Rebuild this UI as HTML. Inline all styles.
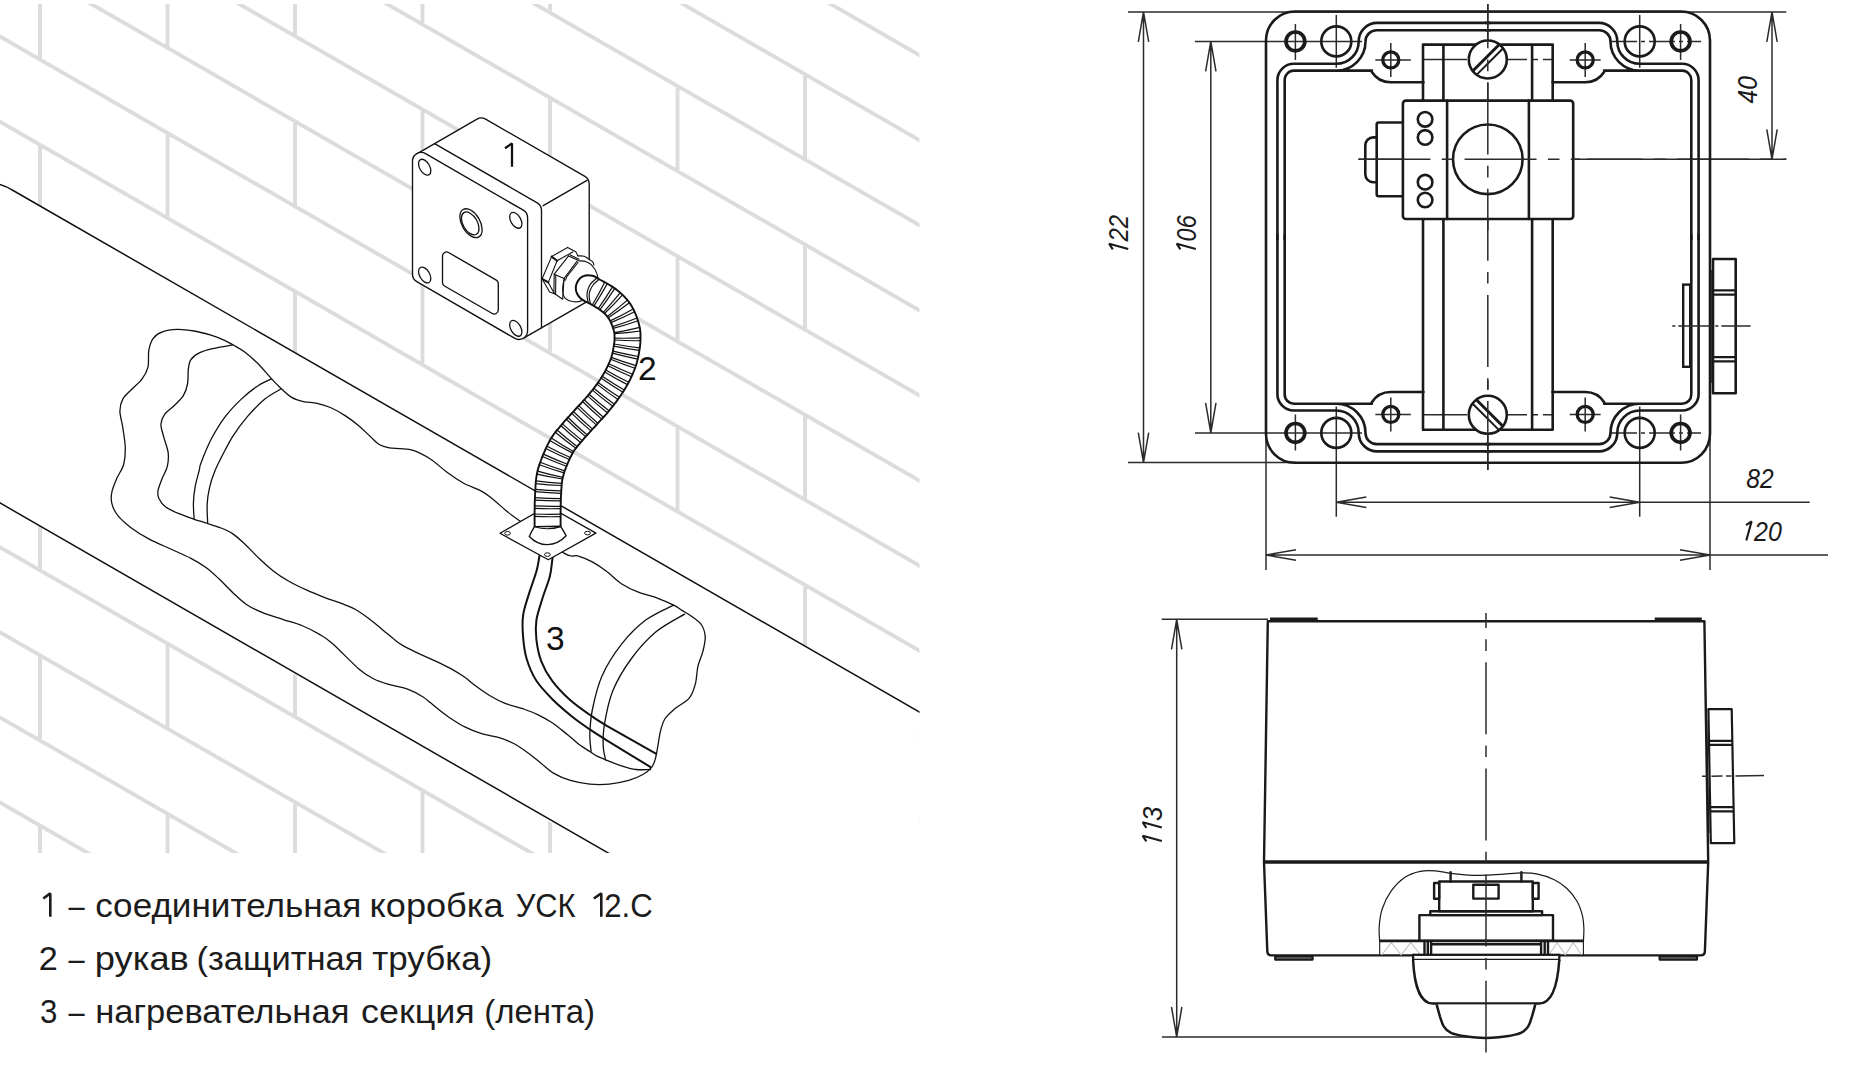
<!DOCTYPE html>
<html><head><meta charset="utf-8"><title>USK 12.C</title>
<style>
html,body{margin:0;padding:0;background:#fff;}
body{width:1849px;height:1071px;overflow:hidden;font-family:"Liberation Sans",sans-serif;}
svg{display:block;}
text{font-family:"Liberation Sans",sans-serif;}
</style></head><body>
<svg width="1849" height="1071" viewBox="0 0 1849 1071">
<rect x="0" y="0" width="1849" height="1071" fill="#fff"/>
<defs><clipPath id="cl"><rect x="0" y="4" width="919.5" height="849"/></clipPath></defs>
<g clip-path="url(#cl)">
<path d="M-5,-647.1 L925,-111.9M-5,-562 L925,-26.8M-5,-476.9 L925,58.3M-5,-391.8 L925,143.4M-5,-306.7 L925,228.5M-5,-221.6 L925,313.6M-5,-136.5 L925,398.7M-5,-51.4 L925,483.8M-5,33.7 L925,568.9M-5,118.8 L925,654M-5,203.9 L925,739.1M-5,289 L925,824.2M-5,374.1 L925,909.3M-5,459.2 L925,994.4M-5,544.3 L925,1079.5M-5,629.4 L925,1164.6M-5,714.5 L925,1249.7M-5,799.6 L925,1334.8M-5,884.7 L925,1419.9M-5,969.8 L925,1505M40,-706.3 V-621.2M40,-536.1 V-451M40,-365.9 V-280.8M40,-195.7 V-110.6M40,-25.5 V59.6M40,144.7 V229.8M40,314.9 V400M40,485.1 V570.2M40,655.3 V740.4M40,825.5 V910.6M40,995.7 V1080.8M167.5,-718 V-632.9M167.5,-547.8 V-462.7M167.5,-377.6 V-292.5M167.5,-207.4 V-122.3M167.5,-37.2 V47.9M167.5,133 V218.1M167.5,303.2 V388.3M167.5,473.4 V558.5M167.5,643.6 V728.7M167.5,813.8 V898.9M167.5,984 V1069.1M295,-559.5 V-474.4M295,-389.3 V-304.2M295,-219.1 V-134M295,-48.9 V36.2M295,121.3 V206.4M295,291.5 V376.6M295,461.7 V546.8M295,631.9 V717M295,802.1 V887.2M295,972.3 V1057.4M295,1142.5 V1227.6M422.5,-571.3 V-486.2M422.5,-401.1 V-316M422.5,-230.9 V-145.8M422.5,-60.7 V24.4M422.5,109.5 V194.6M422.5,279.7 V364.8M422.5,449.9 V535M422.5,620.1 V705.2M422.5,790.3 V875.4M422.5,960.5 V1045.6M422.5,1130.7 V1215.8M550,-412.8 V-327.7M550,-242.6 V-157.5M550,-72.4 V12.7M550,97.8 V182.9M550,268 V353.1M550,438.2 V523.3M550,608.4 V693.5M550,778.6 V863.7M550,948.8 V1033.9M550,1119 V1204.1M550,1289.2 V1374.3M677.5,-424.5 V-339.4M677.5,-254.3 V-169.2M677.5,-84.1 V1M677.5,86.1 V171.2M677.5,256.3 V341.4M677.5,426.5 V511.6M677.5,596.7 V681.8M677.5,766.9 V852M677.5,937.1 V1022.2M677.5,1107.3 V1192.4M677.5,1277.5 V1362.6M805,-266 V-180.9M805,-95.8 V-10.7M805,74.4 V159.5M805,244.6 V329.7M805,414.8 V499.9M805,585 V670.1M805,755.2 V840.3M805,925.4 V1010.5M805,1095.6 V1180.7M805,1265.8 V1350.9M805,1436 V1521.1M932.5,-277.7 V-192.6M932.5,-107.5 V-22.4M932.5,62.7 V147.8M932.5,232.9 V318M932.5,403.1 V488.2M932.5,573.3 V658.4M932.5,743.5 V828.6M932.5,913.7 V998.8M932.5,1083.9 V1169M932.5,1254.1 V1339.2M932.5,1424.3 V1509.4" fill="none" stroke="#dcdcdc" stroke-width="3.9"/>
<path d="M-2,181.7 L921,712.9 L921,856 L608.2,856 L-2,501.8 Z" fill="#fff" stroke="none"/>
<path d="M-1,184.3 Q6.5,186.3 14,191 L921,712.9 M-2,501.8 L616.9,858" fill="none" stroke="#111" stroke-width="1.5"/>
<path d="M116.9,478.1C118.9,473.6 122.2,469.7 123.6,464.7C125,459.6 125.4,454 125.3,447.9C125.2,441.7 123.7,433.9 122.8,427.7C121.9,421.5 119.9,415.6 119.9,410.9C119.9,406.1 120.8,402.7 122.8,399.1C124.8,395.5 128.8,392.4 132,389C135.3,385.7 139.5,382.6 142.1,378.9C144.8,375.3 146.9,371.9 148,367.2C149.1,362.4 148,355.1 148.8,350.3C149.7,345.6 150.8,341.7 153,338.6C155.3,335.5 158.2,333.4 162.3,331.9C166.4,330.3 172.1,329.5 177.4,329.3C182.7,329.2 188.6,330 194.2,331C199.8,332 206,333.7 211,335.2C216.1,336.8 220.9,338.7 224.5,340.3C228.1,341.9 229.5,342.8 232.9,344.8C236.3,346.8 240.5,348.9 244.7,352C248.9,355.2 253.6,359.3 258.1,363.8C262.6,368.3 267.8,374.9 271.6,378.9C275.4,383 277.5,385.1 280.8,388.2C284.2,391.3 288,395.2 291.7,397.4C295.5,399.7 299.3,400.6 303.5,401.6C307.7,402.6 312.5,402.3 317,403.3C321.5,404.3 325.7,405.4 330.4,407.5C335.2,409.6 340.8,412.8 345.5,415.9C350.3,419 354.8,422.5 359,426C363.2,429.5 367.4,433.9 370.8,436.9C374.1,440 376.1,442.7 379.2,444.5C382.3,446.3 385.8,447.2 389.3,447.9C392.7,448.6 396,448.3 400,448.7C404,449.1 408.3,448.6 413.3,450.3C418.3,452 424.4,455.1 430,458.7C435.6,462.3 441.1,467.9 446.7,472C452.2,476.1 457.8,479.9 463.3,483C468.9,486.1 475.4,488 480,490.4C484.6,492.8 486.3,493.9 490.8,497.4C495.3,500.9 502.3,507.6 507.1,511.5C511.9,515.4 510,513.7 519.5,520.7C529,527.7 554.7,547.5 564.4,553.4C574.1,559.2 573.1,554.4 577.7,555.8C582.4,557.2 587.4,559.2 592.3,561.9C597.1,564.5 602,567.9 606.8,571.6C611.7,575.2 616.2,580.3 621.4,583.7C626.7,587.2 632.3,589.8 638.4,592.2C644.5,594.6 652,596.1 657.8,598.3C663.7,600.4 669.6,603.1 673.6,605.1C677.7,607.1 679.1,608.5 682.1,610.4C685.2,612.3 688.6,614.1 691.8,616.5C695.1,618.9 699.3,621.6 701.6,625C703.8,628.4 705,632.7 705.2,637.1C705.4,641.6 704,646.8 702.8,651.7C701.6,656.6 699.1,661 697.9,666.3C696.7,671.5 696.9,678 695.5,683.3C694.1,688.5 692.9,693.6 689.4,697.8C686,702.1 678.9,705.3 674.8,708.8C670.8,712.2 667.6,714.6 665.1,718.5C662.7,722.3 661.5,727.2 660.3,731.8C659.1,736.5 658.7,742 657.8,746.4C657,750.9 656.4,755.1 655.4,758.6C654.4,762 653.8,764.4 651.8,767.1C649.7,769.7 647.1,772.1 643.3,774.3C639.4,776.6 634.4,778.8 628.7,780.4C623,782 615.8,783.4 609.3,784.1C602.8,784.7 596.3,784.7 589.8,784.1C583.4,783.4 576.5,782.2 570.4,780.4C564.4,778.6 558.3,776 553.4,773.1C548.6,770.3 545.3,766.6 541.3,763.4C537.2,760.2 533.6,756.9 529.1,753.7C524.7,750.5 519.4,746.6 514.6,744C509.7,741.4 505.5,739.6 500,737.9C494.5,736.2 487.4,735.5 481.6,733.7C475.7,731.8 470.1,729.6 464.8,726.9C459.4,724.3 454.4,720.9 449.6,717.7C444.9,714.5 440.7,711.1 436.2,707.6C431.7,704.1 427.5,699.8 422.7,696.7C418,693.6 412.9,691.1 407.6,689.1C402.3,687.1 396.4,686.6 390.8,684.9C385.2,683.2 379.3,681.7 374,679C368.7,676.4 365.8,674.9 358.8,668.9C351.9,663 338.8,649 332.1,643.2C325.4,637.3 323.7,636.9 318.6,633.9C313.6,631 307.7,627.9 301.8,625.5C296,623.1 289.8,621.7 283.3,619.6C276.9,617.5 269.3,615.4 263.2,612.9C257,610.4 251.4,607.9 246.4,604.5C241.3,601.1 237.4,596.9 232.9,592.7C228.4,588.5 223.9,583.5 219.5,579.3C215,575.1 210.8,571 206,567.5C201.2,564 196.8,561.3 190.9,558.3C185,555.2 177.7,552.2 170.7,549C163.7,545.8 155.6,542.6 148.8,538.9C142.1,535.3 135.5,531.1 130.3,527.2C125.2,523.2 120.8,519.3 117.7,515.4C114.7,511.5 112.8,507.5 111.9,503.6C110.9,499.7 111,496.1 111.9,491.9C112.7,487.6 114.9,482.7 116.9,478.1Z" fill="none" stroke="#111" stroke-width="1.3" stroke-linecap="round"/>
<path d="M232.9,344.8C229.5,345.4 218.3,347.3 212.7,348.7C207.1,350 202.9,351.1 199.3,352.9C195.6,354.7 192.7,356.9 190.9,359.6C189.1,362.3 188.9,364.8 188.4,368.8C187.8,372.9 188.4,379.5 187.5,384C186.7,388.5 185.6,392.1 183.3,395.7C181.1,399.4 177.1,402.7 174.1,405.8C171,408.9 167,411.2 164.8,414.2C162.6,417.3 161.1,420.4 160.9,424.3C160.8,428.2 162.8,433 164,437.8C165.2,442.5 167.6,448.1 168.2,452.9C168.7,457.7 168.3,462.2 167.3,466.4C166.4,470.6 163.8,474.2 162.3,478.1C160.8,482.1 158.7,486.8 158.1,490.2C157.5,493.6 157.7,495.8 158.9,498.6C160.2,501.4 162.3,504.5 165.7,507C169,509.5 174.3,511.7 179.1,513.7C183.9,515.8 189.5,517.6 194.2,519.3C199,520.9 203.2,522 207.7,523.5C212.2,524.9 216.9,526.3 221.1,528C225.3,529.7 229,531.2 232.9,533.9C236.8,536.5 240.5,540.1 244.7,544C248.9,547.9 253.4,552.9 258.1,557.4C262.9,561.9 268.2,567 273.3,570.9C278.3,574.8 282.8,577.7 288.4,581C294,584.2 300.7,587.4 306.9,590.2C313,593 319.5,595.5 325.4,597.8C331.3,600 337.1,601.7 342.2,603.7C347.2,605.6 351.2,607 355.6,609.5C360.1,612.1 364.6,615.4 369.1,618.8C373.6,622.2 378.6,626.5 382.5,629.7C386.5,632.9 389.3,635.5 392.6,638.1C396,640.7 398.1,642.8 402.6,645.4C407,648 413.8,651.1 419.4,653.8C425,656.5 430.9,658.8 436.2,661.4C441.5,663.9 446.5,666.3 451.3,668.9C456.1,671.6 460.6,674.4 464.8,677.3C469,680.3 472.3,683.5 476.5,686.6C480.7,689.7 485.2,693 490,695.8C494.7,698.6 499.8,701.3 505.1,703.4C510.4,705.5 516.6,706.6 521.9,708.4C527.2,710.3 532,711.9 537.1,714.3C542.1,716.7 547.1,719.4 552.2,722.7C557.2,726.1 562.8,730.9 567.3,734.5C571.8,738.1 575.2,741.6 579.1,744.6C583,747.5 587.8,750.2 590.9,752.2C593.9,754.1 594.7,754.9 597.1,756.1C599.6,757.4 601.6,758.1 605.6,759.8C609.7,761.4 616.4,764.2 621.4,765.8C626.5,767.5 631.1,768.9 636,769.5C640.8,770.1 648.1,769.5 650.6,769.5" fill="none" stroke="#111" stroke-width="1.3" stroke-linecap="round"/>
<path d="M271.6,378.9C269.3,380.1 263.2,382.3 258.1,385.7C253.1,389 246.9,393.8 241.3,399.1C235.7,404.4 229.5,410.9 224.5,417.6C219.5,424.3 215,431.9 211,439.5C207.1,447 202.9,457.9 201,463C199,468.1 200.3,466 199.3,470C198.3,474 196.1,481.2 195.1,486.8C194.1,492.4 193.5,498.2 193.4,503.6C193.3,509 194.1,516.7 194.2,519.3" fill="none" stroke="#111" stroke-width="1.3" stroke-linecap="round"/>
<path d="M280.8,389C278.2,390.7 270.3,394.6 264.8,399.1C259.4,403.6 253.4,409.8 248,415.9C242.7,422.1 237.4,429.1 232.9,436.1C228.4,443.1 224.1,452.3 221.1,457.9C218.2,463.6 217.2,465.2 215.3,470C213.3,474.8 211,481.2 209.7,486.8C208.4,492.4 207.5,497.5 207.2,503.6C206.8,509.7 207.6,520.2 207.7,523.5" fill="none" stroke="#111" stroke-width="1.3" stroke-linecap="round"/>
<path d="M673.6,605.1C669,607.6 654.4,613.6 645.7,620.1C637,626.7 628.7,635.1 621.4,644.4C614.1,653.7 606.8,665.1 602,676C597.1,686.9 594.3,700.3 592.3,710C590.3,719.7 590.1,727.4 589.8,734.3C589.6,741.1 590.9,748.4 591.1,751.3" fill="none" stroke="#111" stroke-width="1.3" stroke-linecap="round"/>
<path d="M684.6,614.1C679.7,617.1 664.3,624.8 655.4,632.3C646.5,639.8 638.2,649.3 631.1,659C624,668.7 617.4,679.6 612.9,690.6C608.5,701.5 606,715.2 604.4,724.6C602.8,733.9 603,740.5 603.2,746.4C603.4,752.3 605.2,757.5 605.6,759.8" fill="none" stroke="#111" stroke-width="1.3" stroke-linecap="round"/>
<path d="M540.8,548C540.5,549.9 539.6,555.5 538.9,559.4C538.1,563.4 538,565.9 536.4,571.6C534.8,577.2 531.4,586.1 529.1,593.4C526.9,600.7 524.1,608 523.1,615.3C522.1,622.6 522.5,629.8 523.1,637.1C523.7,644.4 524.5,651.7 526.7,659C528.9,666.3 532,674 536.4,680.8C540.9,687.7 547.4,694.2 553.4,700.3C559.5,706.3 566.8,712.4 572.9,717.3C578.9,722.1 584.2,725.6 589.8,729.4C595.5,733.3 596.7,734.1 606.8,740.3C617,746.6 643.3,762.6 650.6,767.1" fill="none" stroke="#111" stroke-width="2" stroke-linecap="round"/>
<path d="M553.2,552C553,553.4 552.8,556.6 552.2,560.6C551.6,564.7 551.4,570.2 549.8,576.4C548.2,582.7 544.7,591 542.5,598.3C540.3,605.6 537.4,613.3 536.4,620.1C535.4,627 535.6,632.7 536.4,639.6C537.2,646.4 538.7,654.5 541.3,661.4C543.9,668.3 547.4,674.4 552.2,680.8C557.1,687.3 564.1,694.6 570.4,700.3C576.7,705.9 583.8,710.6 589.8,714.8C595.9,719.1 595.8,719.3 606.8,725.8C617.9,732.2 647.7,749 655.9,753.7" fill="none" stroke="#111" stroke-width="2" stroke-linecap="round"/>
<path d="M500,533.3 L547.7,505.8 L595.9,533.1 L548.3,559.7 Z" fill="#fff" stroke="#111" stroke-width="1.3" stroke-linejoin="round"/>
<ellipse cx="507.6" cy="533.3" rx="2.9" ry="1.8" fill="#fff" stroke="#111" stroke-width="1"/>
<ellipse cx="587.5" cy="533.1" rx="2.9" ry="1.8" fill="#fff" stroke="#111" stroke-width="1"/>
<ellipse cx="547.4" cy="554.6" rx="2.9" ry="1.8" fill="#fff" stroke="#111" stroke-width="1"/>
<path d="M416.9,153.8 L477,119.1 A8.7,8.7 0 0 1 485.6,119.1 L584.9,176.3 A8.7,8.7 0 0 1 589.2,183.8 L589.2,300.3 L523.2,338.4 L430,250 Z" fill="#fff" stroke="#111" stroke-width="1.35" stroke-linejoin="round" stroke-linecap="round"/>
<path d="M412.5,161.3A8.7,8.7 0 0 1 425.6,153.7L523.3,210.2A8.7,8.7 0 0 1 527.6,217.7L527.6,330.7A8.7,8.7 0 0 1 514.5,338.2L416.8,281.7A8.7,8.7 0 0 1 412.5,274.2Z" fill="#fff" stroke="#111" stroke-width="1.35" stroke-linejoin="round" stroke-linecap="round"/>
<path d="M434.6,143.6 L537.2,202.8 A8.7,8.7 0 0 1 541.5,210.3 V327.9 M543.2,205.7 L587,180.3" fill="none" stroke="#111" stroke-width="1.35" stroke-linejoin="round" stroke-linecap="round"/>
<ellipse cx="424.7" cy="167.2" rx="8.7" ry="5" transform="rotate(60 424.7 167.2)" fill="none" stroke="#111" stroke-width="1.3"/>
<ellipse cx="515.8" cy="220.3" rx="8.7" ry="5" transform="rotate(60 515.8 220.3)" fill="none" stroke="#111" stroke-width="1.3"/>
<ellipse cx="424.7" cy="275" rx="8.7" ry="5" transform="rotate(60 424.7 275)" fill="none" stroke="#111" stroke-width="1.3"/>
<ellipse cx="515.8" cy="328.3" rx="8.7" ry="5" transform="rotate(60 515.8 328.3)" fill="none" stroke="#111" stroke-width="1.3"/>
<ellipse cx="471" cy="223.2" rx="15.8" ry="9.1" transform="rotate(60 471 223.2)" fill="none" stroke="#111" stroke-width="1.3"/>
<ellipse cx="470.2" cy="223.4" rx="12.5" ry="7.2" transform="rotate(60 470.2 223.4)" fill="none" stroke="#111" stroke-width="1.3"/>
<path d="M442.5,255.9A4,4 0 0 1 448.5,252.5L496.3,280.1A4,4 0 0 1 498.3,283.6L498.3,310.1A4,4 0 0 1 492.3,313.5L444.5,286A4,4 0 0 1 442.5,282.5Z" fill="none" stroke="#111" stroke-width="1.35" stroke-linejoin="round" stroke-linecap="round"/>
<path d="M505,148.2 L512,143.4 V166.7" fill="none" stroke="#111" stroke-width="2.3" stroke-linejoin="bevel"/>
<path d="M567.6,247.4L575.8,251.7L578,255.9L584.2,256.2L589.2,259.5L592.7,261.8L594.7,267.7L597.6,276.8L598,278.1L586.2,301.7L581.6,300.7L575.8,301.8L569.2,300.4L562.7,299.2L553.9,293.3L549.6,291.9L542.1,278.8L551.6,256.6Z" fill="#fff" stroke="none"/>
<path d="M567.6,247.4L551.6,256.6L542.1,278.8L549.6,291.9L554.2,293.8" fill="none" stroke="#111" stroke-width="1.1" stroke-linejoin="round" stroke-linecap="round"/>
<path d="M567.6,247.4L575.8,251.7L578,255.9" fill="none" stroke="#111" stroke-width="1.1" stroke-linejoin="round" stroke-linecap="round"/>
<path d="M572.8,251.9L557.1,260.8L548.3,282.4L553.9,292.8" fill="none" stroke="#111" stroke-width="1.1" stroke-linejoin="round" stroke-linecap="round"/>
<path d="M568.6,255.9L554.2,274.2L553.9,293.2L562.7,299.2L564,278.5L577.1,261.1" fill="none" stroke="#111" stroke-width="1.1" stroke-linejoin="round" stroke-linecap="round"/>
<path d="M554.2,274.2L564,278.5" fill="none" stroke="#111" stroke-width="1.1" stroke-linejoin="round" stroke-linecap="round"/>
<path d="M555.8,275L555.6,294.2" fill="none" stroke="#111" stroke-width="1.1" stroke-linejoin="round" stroke-linecap="round"/>
<path d="M568.6,255.9L578,260.2" fill="none" stroke="#111" stroke-width="1.1" stroke-linejoin="round" stroke-linecap="round"/>
<path d="M570.2,254.9L579,259.2" fill="none" stroke="#111" stroke-width="1.1" stroke-linejoin="round" stroke-linecap="round"/>
<path d="M565.6,280.1L566.6,276.8L578,262.5" fill="none" stroke="#111" stroke-width="1.1" stroke-linejoin="round" stroke-linecap="round"/>
<path d="M551.6,256.6L557.1,260.8" fill="none" stroke="#111" stroke-width="2" stroke-linejoin="round" stroke-linecap="round"/>
<path d="M542.1,278.8L548.3,282.4" fill="none" stroke="#111" stroke-width="2" stroke-linejoin="round" stroke-linecap="round"/>
<path d="M578.4,260.8C579.3,260.9 582.3,260.7 584.2,261.1C586.2,261.6 588.4,262.5 590.1,263.8C591.9,265.1 593.5,267.1 594.7,269C595.9,270.8 596.8,273.4 597.3,274.9C597.8,276.3 597.7,277.3 597.8,277.8" fill="none" stroke="#111" stroke-width="1.1" stroke-linejoin="round" stroke-linecap="round"/>
<path d="M564.6,278.5C564.4,279.5 563.3,282.5 563,284.7C562.7,286.8 562.5,289.2 562.7,291.2C562.8,293.2 563.2,295 564,296.4C564.7,297.9 565.9,298.9 567.3,299.7C568.6,300.5 570.2,301 571.8,301.3C573.5,301.7 575.4,301.9 577.1,301.8C578.7,301.7 580.9,300.9 581.6,300.7" fill="none" stroke="#111" stroke-width="1.1" stroke-linejoin="round" stroke-linecap="round"/>
<path d="M578,255.9C579.1,256 582.4,255.6 584.2,256.2C586.1,256.8 587.7,258.6 589.2,259.5C590.6,260.4 591.9,260.9 592.7,261.8C593.5,262.7 593.7,264.4 593.9,264.9" fill="none" stroke="#111" stroke-width="1.1" stroke-linejoin="round" stroke-linecap="round"/>
<path d="M598.3,278.3C597.4,277.9 594.9,276.3 592.7,275.8C590.6,275.4 587.6,275.1 585.6,275.5C583.5,275.9 581.8,276.8 580.3,278.1C578.9,279.4 577.5,281.6 576.7,283.4C576,285.1 575.7,286.9 575.8,288.6C575.8,290.3 576.2,292.1 577.1,293.8C577.9,295.5 579.4,297.4 581,298.7C582.5,300.1 585.4,301.3 586.3,301.8" fill="none" stroke="#111" stroke-width="2" stroke-linejoin="round" stroke-linecap="round"/>
<path d="M584.6,301.1L586.8,302.2L588.8,303.2L590.7,304.1L592.5,305.1L594.1,306L595.8,307.1L597.6,308.2L599.2,309.3L600.8,310.4L602.2,311.5L603.5,312.6L604.7,313.7L605.9,314.9L606.9,316.1L607.9,317.4L608.8,318.6L609.6,319.9L610.4,321.4L611.1,323L611.8,324.7L612.5,326.4L613.1,328.1L613.6,329.9L614,331.6L614.4,333.1L614.5,334L614.5,335.6L614.5,338L614.5,339.9L614.5,341.2L614.2,343L613.9,345L613.6,347.2L613.2,349.3L612.9,351.2L612.4,353.2L612,354.9L611.5,356.7L610.9,358.5L610.2,360.4L609.5,362.2L608.7,364L607.8,365.9L606.9,367.7L606.1,369.5L605.1,371.3L604.1,373.1L603,374.9L601.9,376.7L600.8,378.5L599.6,380.2L598.5,381.9L597.3,383.7L596,385.4L594.7,387.1L593.4,388.8L592.1,390.5L590.7,392.2L589.3,393.9L587.9,395.6L586.5,397.2L585.1,398.8L583.6,400.4L582.1,402.1L580.5,403.8L578.9,405.5L577.3,407.2L575.7,409L574.2,410.7L572.7,412.3L571.1,414L569.5,415.8L567.9,417.5L566.3,419.3L564.6,421.2L563,423.1L561.5,424.9L560.1,426.5L558.6,428.3L556.9,430.2L555.2,432.4L553.5,434.7L551.9,437.1L550.3,439.6L549.1,442L547.8,444.4L546.7,446.7L545.6,449L544.6,451.3L543.6,453.6L542.6,455.9L541.7,458.2L540.9,460.5L540,462.9L539.2,465.4L538.3,468.1L537.6,470.8L537,473.5L536.5,476.4L536.1,479.1L535.8,481.8L535.6,484.5L535.5,486.9L535.4,489.3L535.2,491.5L535.1,493.8L535,496.3L534.9,498.7L534.8,501.2L534.7,503.6L534.7,506L534.7,508.4L534.6,510.7L534.6,513L534.6,515.3L534.6,517.6L534.6,520L534.6,522.4L534.6,524.8L534.6,527.1L560.6,526.9L560.6,524.6L560.6,522.3L560.6,520.1L560.6,517.9L560.6,515.6L560.6,513.2L560.6,510.9L560.7,508.6L560.7,506.3L560.7,504.1L560.8,501.9L560.8,499.7L560.9,497.5L561,495.3L561.2,493L561.3,490.7L561.4,488.4L561.6,486.2L561.7,484.2L561.9,482.4L562.2,480.4L562.5,478.8L562.9,477L563.4,475.2L563.9,473.5L564.5,471.5L565.2,469.6L566,467.5L566.8,465.6L567.6,463.6L568.4,461.7L569.3,459.8L570.2,457.8L571.1,456L572,454.3L572.9,452.5L573.8,451.1L574.7,449.7L575.8,448.3L577,446.8L578.3,445.2L579.8,443.5L581.4,441.6L582.9,439.9L584.3,438.2L585.7,436.6L587.2,435L588.7,433.3L590.2,431.6L591.8,429.9L593.4,428.2L595,426.5L596.5,424.8L598,423.1L599.6,421.4L601.2,419.7L602.8,418L604.5,416.1L606.1,414.3L607.7,412.4L609.3,410.5L610.8,408.6L612.4,406.7L613.9,404.8L615.4,402.8L616.9,400.9L618.4,398.8L619.8,396.8L621.3,394.6L622.6,392.6L624,390.4L625.3,388.3L626.6,386.1L627.9,383.8L629.1,381.5L630.3,379.2L631.4,376.9L632.5,374.5L633.5,372L634.5,369.5L635.4,367.1L636.3,364.5L637,361.9L637.7,359.1L638.3,356.5L638.8,353.9L639.2,351.5L639.6,349L640,346.5L640.3,343.7L640.5,340.3L640.5,337.7L640.5,335.4L640.4,332.3L640,328.7L639.3,325.6L638.6,322.9L637.8,320.2L636.9,317.5L635.9,314.9L634.8,312.4L633.6,309.7L632.2,307.1L630.6,304.4L628.8,301.9L627,299.5L625,297.3L622.9,295.1L620.7,293.1L618.5,291.2L616.2,289.4L614,287.9L611.8,286.4L609.6,285L607.4,283.7L605,282.3L602.7,281.1L600.5,280L598.3,278.9L596.4,277.9Z" fill="#fff" stroke="none"/>
<path d="M584.6,301.1L586.8,302.2L588.8,303.2L590.7,304.1L592.5,305.1L594.1,306L595.8,307.1L597.6,308.2L599.2,309.3L600.8,310.4L602.2,311.5L603.5,312.6L604.7,313.7L605.9,314.9L606.9,316.1L607.9,317.4L608.8,318.6L609.6,319.9L610.4,321.4L611.1,323L611.8,324.7L612.5,326.4L613.1,328.1L613.6,329.9L614,331.6L614.4,333.1L614.5,334L614.5,335.6L614.5,338L614.5,339.9L614.5,341.2L614.2,343L613.9,345L613.6,347.2L613.2,349.3L612.9,351.2L612.4,353.2L612,354.9L611.5,356.7L610.9,358.5L610.2,360.4L609.5,362.2L608.7,364L607.8,365.9L606.9,367.7L606.1,369.5L605.1,371.3L604.1,373.1L603,374.9L601.9,376.7L600.8,378.5L599.6,380.2L598.5,381.9L597.3,383.7L596,385.4L594.7,387.1L593.4,388.8L592.1,390.5L590.7,392.2L589.3,393.9L587.9,395.6L586.5,397.2L585.1,398.8L583.6,400.4L582.1,402.1L580.5,403.8L578.9,405.5L577.3,407.2L575.7,409L574.2,410.7L572.7,412.3L571.1,414L569.5,415.8L567.9,417.5L566.3,419.3L564.6,421.2L563,423.1L561.5,424.9L560.1,426.5L558.6,428.3L556.9,430.2L555.2,432.4L553.5,434.7L551.9,437.1L550.3,439.6L549.1,442L547.8,444.4L546.7,446.7L545.6,449L544.6,451.3L543.6,453.6L542.6,455.9L541.7,458.2L540.9,460.5L540,462.9L539.2,465.4L538.3,468.1L537.6,470.8L537,473.5L536.5,476.4L536.1,479.1L535.8,481.8L535.6,484.5L535.5,486.9L535.4,489.3L535.2,491.5L535.1,493.8L535,496.3L534.9,498.7L534.8,501.2L534.7,503.6L534.7,506L534.7,508.4L534.6,510.7L534.6,513L534.6,515.3L534.6,517.6L534.6,520L534.6,522.4L534.6,524.8L534.6,527.1" fill="none" stroke="#111" stroke-width="1.9" stroke-linecap="round" stroke-linejoin="round"/>
<path d="M596.4,277.9L598.3,278.9L600.5,280L602.7,281.1L605,282.3L607.4,283.7L609.6,285L611.8,286.4L614,287.9L616.2,289.4L618.5,291.2L620.7,293.1L622.9,295.1L625,297.3L627,299.5L628.8,301.9L630.6,304.4L632.2,307.1L633.6,309.7L634.8,312.4L635.9,314.9L636.9,317.5L637.8,320.2L638.6,322.9L639.3,325.6L640,328.7L640.4,332.3L640.5,335.4L640.5,337.7L640.5,340.3L640.3,343.7L640,346.5L639.6,349L639.2,351.5L638.8,353.9L638.3,356.5L637.7,359.1L637,361.9L636.3,364.5L635.4,367.1L634.5,369.5L633.5,372L632.5,374.5L631.4,376.9L630.3,379.2L629.1,381.5L627.9,383.8L626.6,386.1L625.3,388.3L624,390.4L622.6,392.6L621.3,394.6L619.8,396.8L618.4,398.8L616.9,400.9L615.4,402.8L613.9,404.8L612.4,406.7L610.8,408.6L609.3,410.5L607.7,412.4L606.1,414.3L604.5,416.1L602.8,418L601.2,419.7L599.6,421.4L598,423.1L596.5,424.8L595,426.5L593.4,428.2L591.8,429.9L590.2,431.6L588.7,433.3L587.2,435L585.7,436.6L584.3,438.2L582.9,439.9L581.4,441.6L579.8,443.5L578.3,445.2L577,446.8L575.8,448.3L574.7,449.7L573.8,451.1L572.9,452.5L572,454.3L571.1,456L570.2,457.8L569.3,459.8L568.4,461.7L567.6,463.6L566.8,465.6L566,467.5L565.2,469.6L564.5,471.5L563.9,473.5L563.4,475.2L562.9,477L562.5,478.8L562.2,480.4L561.9,482.4L561.7,484.2L561.6,486.2L561.4,488.4L561.3,490.7L561.2,493L561,495.3L560.9,497.5L560.8,499.7L560.8,501.9L560.7,504.1L560.7,506.3L560.7,508.6L560.6,510.9L560.6,513.2L560.6,515.6L560.6,517.9L560.6,520.1L560.6,522.3L560.6,524.6L560.6,526.9" fill="none" stroke="#111" stroke-width="1.9" stroke-linecap="round" stroke-linejoin="round"/>
<path d="M592.3,305 Q599,293.8 604.7,282.2M594,305.9 Q601,295 607.3,283.6M598.2,308.6 Q605.8,298 612.5,286.9M599.9,309.8 Q607.7,299.4 614.8,288.4M603.3,312.4 Q612.1,302.9 620.3,292.7M604.5,313.5 Q613.9,304.5 622.5,294.8M607.2,316.5 Q617.6,308.7 627.4,300.1M608.2,317.7 Q619.1,310.6 629.4,302.7M610.1,320.9 Q621.9,315.4 633.2,309M610.9,322.6 Q622.9,317.6 634.5,311.7M612.6,326.6 Q625,322.8 637.1,318M613.2,328.4 Q625.7,325.1 638,320.7M614.3,332.7 Q627.1,330.5 639.7,327.3M614.4,333.7 Q627.4,332.9 640.3,331M614.5,338.1 Q627.5,338.5 640.5,337.8M614.5,340 Q627.5,340.9 640.5,340.7M614.1,344 Q626.9,346.4 639.8,347.9M613.7,346.2 Q626.5,348.8 639.4,350.4M612.9,351.2 Q625.5,354.3 638.3,356.5M612.4,353.2 Q625,356.6 637.7,359.1M611.2,357.4 Q623.4,362 635.9,365.6M610.6,359.3 Q622.6,364.3 635,368.3M608.8,363.8 Q620.5,369.5 632.6,374.2M607.9,365.7 Q619.5,371.6 631.5,376.7M605.7,370.1 Q617,376.7 628.7,382.3M604.7,372 Q615.8,378.8 627.4,384.6M602.2,376.3 Q613,383.6 624.3,390M601,378.1 Q611.7,385.6 622.9,392.2M598.1,382.4 Q608.5,390.2 619.5,397.2M596.9,384.1 Q607.1,392.2 618,399.4M593.8,388.3 Q603.8,396.7 614.4,404.2M592.4,390.1 Q602.3,398.5 612.8,406.2M589.1,394.2 Q598.7,402.9 609.1,410.8M587.6,395.9 Q597.2,404.7 607.4,412.8M584.2,399.8 Q593.5,408.9 603.4,417.3M582.6,401.5 Q591.9,410.7 601.8,419.1M578.8,405.6 Q588.1,414.8 597.9,423.2M577.2,407.4 Q586.4,416.5 596.4,424.9M573.4,411.5 Q582.7,420.7 592.6,429.1M571.8,413.3 Q581,422.5 590.9,430.9M568,417.5 Q577.2,426.6 587.2,435M566.3,419.3 Q575.6,428.4 585.7,436.6M562.4,423.9 Q572,432.6 582.3,440.6M560.9,425.7 Q570.5,434.5 580.7,442.5M557.1,430 Q566.8,438.7 577.1,446.6M555.4,432.2 Q565.3,440.6 575.9,448.2M551.3,438 Q562.2,445.2 573.5,451.6M549.8,440.6 Q561,447.3 572.6,453.1M547,446.2 Q558.4,452.3 570.4,457.5M545.8,448.5 Q557.4,454.5 569.4,459.5M543.4,454.1 Q555.2,459.6 567.4,464.2M542.4,456.5 Q554.3,461.8 566.5,466.2M540.2,462.3 Q552.3,467.1 564.7,470.9M539.3,464.8 Q551.6,469.3 564.1,472.9M537.5,471.1 Q550,474.7 562.8,477.3M536.9,474.2 Q549.6,477.1 562.4,479M535.9,480.8 Q548.8,482.6 561.8,483.4M535.7,483.6 Q548.6,485 561.6,485.5M535.4,489.4 Q548.3,490.6 561.3,490.8M535.2,491.7 Q548.2,493 561.2,493.3M534.9,497.6 Q547.9,498.6 560.9,498.6M534.8,500.1 Q547.8,501 560.8,500.9M534.7,505.9 Q547.7,506.6 560.7,506.3M534.7,508.4 Q547.7,509 560.7,508.6M534.6,514 Q547.6,514.6 560.6,514.2M534.6,516.4 Q547.6,517 560.6,516.6" fill="none" stroke="#111" stroke-width="1.2" stroke-linecap="round"/>
<path d="M596.1,278.7C595.3,279.5 592.2,281.8 590.8,283.7C589.4,285.6 588.5,287.9 587.8,289.9C587.2,291.9 586.9,293.7 587,295.8C587,297.8 588,301.1 588.2,302.2 M598.3,280.1C597.4,280.9 594.5,283.1 593.1,285C591.7,286.9 590.5,289.2 589.8,291.2C589.2,293.2 589,295.1 589.2,297.1C589.3,299.1 590.2,302.3 590.5,303.3" fill="none" stroke="#111" stroke-width="1.2" stroke-linecap="round"/>
<path d="M534.6,526.6 Q531,532 529.3,536.4 Q537,544.6 547.3,544.6 Q558,544.6 566.1,535.8 Q563.5,530.5 560.6,526.3 Z" fill="#fff" stroke="#111" stroke-width="1.4" stroke-linejoin="round"/>
<path d="M534.6,526.8 Q547.6,530.8 560.6,526.6" fill="none" stroke="#111" stroke-width="1.2"/>
<text x="647.2" y="379.8" font-size="33.5" text-anchor="middle" fill="#111">2</text>
<text x="555.4" y="650.3" font-size="33.5" text-anchor="middle" fill="#111">3</text>
</g>
<path d="M1128,11.9 H1786.3M1128,462.6 H1296M1143.5,11.9 V462.6M1148.7,41.9 L1143.5,11.9 L1138.3,41.9M1138.3,432.6 L1143.5,462.6 L1148.7,432.6M1195,41.4 H1362 M1195,432.9 H1362M1210.8,41.4 V432.9M1216,71.4 L1210.8,41.4 L1205.6,71.4M1205.6,402.9 L1210.8,432.9 L1216,402.9M1772,11.9 V159.3M1777.2,41.9 L1772,11.9 L1766.8,41.9M1766.8,129.3 L1772,159.3 L1777.2,129.3M1336.3,15 V67.7 M1639.7,15 V67.7M1336.3,406.5 V516.7 M1639.7,406.5 V516.7M1336.3,502.3 H1809.7M1366.3,497.1 L1336.3,502.3 L1366.3,507.5M1609.7,507.5 L1639.7,502.3 L1609.7,497.1M1266,433 V570 M1710,433 V570M1266,555 H1828M1296,549.8 L1266,555 L1296,560.2M1680,560.2 L1710,555 L1680,549.8M1295.4,23.9 V59.9 M1295.4,414.4 V450.4M1680.6,23.9 V59.9 M1680.6,414.4 V450.4M1390.8,42.9 V76.9 M1375.3,59.9 H1410.8M1390.8,397.4 V431.4 M1375.3,414.4 H1410.8M1585.2,42.9 V76.9 M1569.7,59.9 H1600.7M1585.2,397.4 V431.4 M1569.7,414.4 H1600.7" fill="none" stroke="#2b2b2b" stroke-width="1.5"/>
<path d="M1611,41.4 H1701 M1611,432.9 H1701" fill="none" stroke="#2b2b2b" stroke-width="1.5" stroke-dasharray="26 4 4 4"/>
<path d="M1423,59.5 H1553 M1423,414.8 H1553" fill="none" stroke="#2b2b2b" stroke-width="1.5" stroke-dasharray="44 5 6 5"/>
<path d="M1487.8,4 V470" fill="none" stroke="#2b2b2b" stroke-width="1.5" stroke-dasharray="72 11.3 11.6 11.3" stroke-dashoffset="27.7"/>
<path d="M1358.4,159.3 H1786.3" fill="none" stroke="#2b2b2b" stroke-width="1.5" stroke-dasharray="72 11.3 11.6 11.3"/>
<path d="M1587,159.3 H1786.3" fill="none" stroke="#2b2b2b" stroke-width="1.5"/>
<rect x="1266" y="11.5" width="444" height="451.3" rx="29" ry="29" fill="none" stroke="#1a1a1a" stroke-width="2.6" stroke-linejoin="round" stroke-linecap="round"/>
<g><path d="M1277.4,239.5 V80.3 A16.5,16.5 0 0 1 1293.9,63.8 H1336.3 A22.4,22.4 0 0 0 1358.7,41.4 A18.5,18.5 0 0 1 1377.2,22.9 H1490 M1284.7,239.5 V79.9 A9.3,9.3 0 0 1 1294,70.6 H1336.3 A29.2,29.2 0 0 0 1365.5,41.4 A11.2,11.2 0 0 1 1376.7,30.2 H1490 M1336.3,70.6 H1371.9 L1371.7,71.8 A22.4,22.4 0 0 0 1390.8,82.3 H1423.5" fill="none" stroke="#1a1a1a" stroke-width="2.6" stroke-linejoin="round" stroke-linecap="round"/><circle cx="1295.4" cy="41.4" r="9.4" fill="none" stroke="#1a1a1a" stroke-width="3.7"/><circle cx="1336.3" cy="41.4" r="15" fill="none" stroke="#1a1a1a" stroke-width="2.6"/><circle cx="1390.8" cy="59.9" r="8" fill="none" stroke="#1a1a1a" stroke-width="3.3"/></g>
<g transform="translate(2976,0) scale(-1,1)"><path d="M1277.4,239.5 V80.3 A16.5,16.5 0 0 1 1293.9,63.8 H1336.3 A22.4,22.4 0 0 0 1358.7,41.4 A18.5,18.5 0 0 1 1377.2,22.9 H1490 M1284.7,239.5 V79.9 A9.3,9.3 0 0 1 1294,70.6 H1336.3 A29.2,29.2 0 0 0 1365.5,41.4 A11.2,11.2 0 0 1 1376.7,30.2 H1490 M1336.3,70.6 H1371.9 L1371.7,71.8 A22.4,22.4 0 0 0 1390.8,82.3 H1423.5" fill="none" stroke="#1a1a1a" stroke-width="2.6" stroke-linejoin="round" stroke-linecap="round"/><circle cx="1295.4" cy="41.4" r="9.4" fill="none" stroke="#1a1a1a" stroke-width="3.7"/><circle cx="1336.3" cy="41.4" r="15" fill="none" stroke="#1a1a1a" stroke-width="2.6"/><circle cx="1390.8" cy="59.9" r="8" fill="none" stroke="#1a1a1a" stroke-width="3.3"/></g>
<g transform="translate(0,474.3) scale(1,-1)"><path d="M1277.4,239.5 V80.3 A16.5,16.5 0 0 1 1293.9,63.8 H1336.3 A22.4,22.4 0 0 0 1358.7,41.4 A18.5,18.5 0 0 1 1377.2,22.9 H1490 M1284.7,239.5 V79.9 A9.3,9.3 0 0 1 1294,70.6 H1336.3 A29.2,29.2 0 0 0 1365.5,41.4 A11.2,11.2 0 0 1 1376.7,30.2 H1490 M1336.3,70.6 H1371.9 L1371.7,71.8 A22.4,22.4 0 0 0 1390.8,82.3 H1423.5" fill="none" stroke="#1a1a1a" stroke-width="2.6" stroke-linejoin="round" stroke-linecap="round"/><circle cx="1295.4" cy="41.4" r="9.4" fill="none" stroke="#1a1a1a" stroke-width="3.7"/><circle cx="1336.3" cy="41.4" r="15" fill="none" stroke="#1a1a1a" stroke-width="2.6"/><circle cx="1390.8" cy="59.9" r="8" fill="none" stroke="#1a1a1a" stroke-width="3.3"/></g>
<g transform="translate(2976,474.3) scale(-1,-1)"><path d="M1277.4,239.5 V80.3 A16.5,16.5 0 0 1 1293.9,63.8 H1336.3 A22.4,22.4 0 0 0 1358.7,41.4 A18.5,18.5 0 0 1 1377.2,22.9 H1490 M1284.7,239.5 V79.9 A9.3,9.3 0 0 1 1294,70.6 H1336.3 A29.2,29.2 0 0 0 1365.5,41.4 A11.2,11.2 0 0 1 1376.7,30.2 H1490 M1336.3,70.6 H1371.9 L1371.7,71.8 A22.4,22.4 0 0 0 1390.8,82.3 H1423.5" fill="none" stroke="#1a1a1a" stroke-width="2.6" stroke-linejoin="round" stroke-linecap="round"/><circle cx="1295.4" cy="41.4" r="9.4" fill="none" stroke="#1a1a1a" stroke-width="3.7"/><circle cx="1336.3" cy="41.4" r="15" fill="none" stroke="#1a1a1a" stroke-width="2.6"/><circle cx="1390.8" cy="59.9" r="8" fill="none" stroke="#1a1a1a" stroke-width="3.3"/></g>
<path d="M1423,44.6 V100.6 M1423,219 V429.7M1443.4,44.6 V100.6 M1443.4,219 V429.7M1532.1,44.6 V100.6 M1532.1,219 V429.7M1552.7,44.6 V100.6 M1552.7,219 V429.7M1423,44.6 H1552.7 M1423,429.7 H1552.7" fill="none" stroke="#1a1a1a" stroke-width="2.6" stroke-linejoin="round" stroke-linecap="round"/>
<circle cx="1487.8" cy="59.5" r="19" fill="#fff" stroke="#1a1a1a" stroke-width="2.6"/>
<path d="M1473,70.7 L1499,44.7" fill="none" stroke="#1a1a1a" stroke-width="3.0"/>
<path d="M1476.8,74.6 L1502.9,48.5" fill="none" stroke="#1a1a1a" stroke-width="2.0"/>
<circle cx="1487.8" cy="414.8" r="19" fill="#fff" stroke="#1a1a1a" stroke-width="2.6"/>
<path d="M1476.6,400 L1502.6,426" fill="none" stroke="#1a1a1a" stroke-width="3.0"/>
<path d="M1472.7,403.8 L1498.8,429.9" fill="none" stroke="#1a1a1a" stroke-width="2.0"/>
<path d="M1487.8,380 V470" fill="none" stroke="#2b2b2b" stroke-width="1.5" stroke-dasharray="72 11.3 11.6 11.3" stroke-dashoffset="403.7"/>
<rect x="1376.7" y="122.5" width="30" height="73.7" rx="2" fill="none" stroke="#1a1a1a" stroke-width="2.6" stroke-linejoin="round" stroke-linecap="round"/>
<path d="M1376.7,137.4 H1373.3 A8,8 0 0 0 1365.3,145.4 V174.2 A8,8 0 0 0 1373.3,182.2 H1376.7" fill="none" stroke="#1a1a1a" stroke-width="2.6" stroke-linejoin="round" stroke-linecap="round"/>
<rect x="1402.9" y="100.6" width="170.3" height="118.4" rx="3" fill="#fff" stroke="#1a1a1a" stroke-width="2.6"/>
<path d="M1447.1,100.6 V219 M1528.9,100.6 V219" fill="none" stroke="#1a1a1a" stroke-width="2.6" stroke-linejoin="round" stroke-linecap="round"/>
<circle cx="1487.8" cy="159.3" r="34.8" fill="none" stroke="#1a1a1a" stroke-width="2.6" stroke-linejoin="round" stroke-linecap="round"/>
<circle cx="1425.1" cy="119.3" r="7.3" fill="none" stroke="#1a1a1a" stroke-width="2.6" stroke-linejoin="round" stroke-linecap="round"/>
<circle cx="1425.1" cy="137.4" r="7.3" fill="none" stroke="#1a1a1a" stroke-width="2.6" stroke-linejoin="round" stroke-linecap="round"/>
<circle cx="1425.1" cy="182.2" r="7.3" fill="none" stroke="#1a1a1a" stroke-width="2.6" stroke-linejoin="round" stroke-linecap="round"/>
<circle cx="1425.1" cy="200" r="7.3" fill="none" stroke="#1a1a1a" stroke-width="2.6" stroke-linejoin="round" stroke-linecap="round"/>
<path d="M1487.8,4 V230" fill="none" stroke="#2b2b2b" stroke-width="1.5" stroke-dasharray="72 11.3 11.6 11.3" stroke-dashoffset="27.7"/>
<path d="M1358.4,159.3 H1580" fill="none" stroke="#2b2b2b" stroke-width="1.5" stroke-dasharray="72 11.3 11.6 11.3"/>
<rect x="1713" y="259" width="22.7" height="134.3" fill="none" stroke="#1a1a1a" stroke-width="2.6" stroke-linejoin="round" stroke-linecap="round"/>
<path d="M1713,290.4 H1735.7 M1713,294.7 H1735.7 M1713,357.1 H1735.7 M1713,361.4 H1735.7" fill="none" stroke="#1a1a1a" stroke-width="2.2"/>
<path d="M1712,270 V383" fill="none" stroke="#1a1a1a" stroke-width="1.6"/>
<rect x="1683.2" y="284.6" width="7" height="82.2" fill="#fff" stroke="#1a1a1a" stroke-width="2.4"/>
<path d="M1672.3,326 H1750.7" fill="none" stroke="#2b2b2b" stroke-width="1.5" stroke-dasharray="3 3 34 3 3 3 40"/>
<g transform="translate(1128.2,250.1) rotate(-90)"><path d="M0.80,-15.4 L6.40,-19.1 L1.10,0" fill="none" stroke="#1a1a1a" stroke-width="2.1" stroke-linejoin="bevel"/><text transform="translate(8.40,0) scale(0.8548,1)" x="0.20" y="0" font-size="28.0" font-style="italic" fill="#1a1a1a">22</text></g>
<g transform="translate(1195.8,250.1) rotate(-90)"><path d="M0.80,-15.4 L6.40,-19.1 L1.10,0" fill="none" stroke="#1a1a1a" stroke-width="2.1" stroke-linejoin="bevel"/><text transform="translate(9.70,0) scale(0.8400,1)" x="-1.20" y="0" font-size="28.0" font-style="italic" fill="#1a1a1a">06</text></g>
<g transform="translate(1757,103.3) rotate(-90)"><text transform="translate(0.00,0) scale(0.8762,1)" x="-0.20" y="0" font-size="28.0" font-style="italic" fill="#1a1a1a">40</text></g>
<g transform="translate(1746.9,488.4)"><text transform="translate(0.00,0) scale(0.8804,1)" x="-0.70" y="0" font-size="28.0" font-style="italic" fill="#1a1a1a">82</text></g>
<g transform="translate(1745.2,540.5)"><path d="M0.80,-15.4 L6.40,-19.1 L1.10,0" fill="none" stroke="#1a1a1a" stroke-width="2.1" stroke-linejoin="bevel"/><text transform="translate(8.70,0) scale(0.8907,1)" x="0.20" y="0" font-size="28.0" font-style="italic" fill="#1a1a1a">20</text></g>
<path d="M1161.7,619.2 H1268 M1162,1037 H1486M1176.7,619.3 V1037M1181.9,649.3 L1176.7,619.3 L1171.5,649.3M1171.5,1007 L1176.7,1037 L1181.9,1007" fill="none" stroke="#2b2b2b" stroke-width="1.5"/>
<g transform="translate(1161.8,842.2) rotate(-90)"><path d="M0.80,-15.4 L6.40,-19.1 L1.10,0" fill="none" stroke="#1a1a1a" stroke-width="2.1" stroke-linejoin="bevel"/><path d="M14.30,-15.4 L19.90,-19.1 L14.60,0" fill="none" stroke="#1a1a1a" stroke-width="2.1" stroke-linejoin="bevel"/><text transform="translate(21.90,0) scale(0.9178,1)" x="-0.70" y="0" font-size="28.0" font-style="italic" fill="#1a1a1a">3</text></g>
<path d="M1267.8,621.3 H1704.4 L1708.2,862 L1704.9,951.4 Q1704.7,955.4 1700.7,955.4 H1271.5 Q1267.5,955.4 1267.3,951.4 L1264,862 Z" fill="#fff" stroke="#1a1a1a" stroke-width="2.4" stroke-linejoin="round"/>
<path d="M1264,862 H1708.2" fill="none" stroke="#1a1a1a" stroke-width="3.4"/>
<path d="M1270,617.4 H1317.7 V621.5 H1270 Z M1654.8,617.4 H1701.8 V621.5 H1654.8 Z" fill="#1a1a1a" stroke="none"/>
<rect x="1275.2" y="956.5" width="37.4" height="3.1" fill="#8c8c8c" stroke="#1a1a1a" stroke-width="2.2" stroke-linejoin="round"/>
<rect x="1659.6" y="956.5" width="37.4" height="3.1" fill="#8c8c8c" stroke="#1a1a1a" stroke-width="2.2" stroke-linejoin="round"/>
<path d="M1708.4,709.2 L1731.7,709.2 L1734.3,843.2 L1710.8,843.2 Z" fill="#fff" stroke="#1a1a1a" stroke-width="2.2" stroke-linejoin="round"/>
<path d="M1709,740.8 L1732.3,740.8 M1709.1,744.9 L1732.4,744.9 M1710.2,807.1 L1733.6,807.1 M1710.3,811.3 L1733.7,811.3" fill="none" stroke="#1a1a1a" stroke-width="2.2"/>
<path d="M1706.6,720 L1708.8,833" fill="none" stroke="#1a1a1a" stroke-width="1.4"/>
<path d="M1702,776.3 L1764,775.6" fill="none" stroke="#2b2b2b" stroke-width="1.5" stroke-dasharray="5.5 4 11 3.5 5.5 4 40"/>
<path d="M1379.7,941.7C1379.6,939.1 1378.8,932 1379.2,926.5C1379.6,921 1380.3,914.7 1382.3,908.8C1384.2,902.9 1387.3,896.3 1391.1,891.1C1394.9,885.8 1400.2,880.4 1405,877.2C1409.9,873.9 1415.1,872.4 1420.2,871.3C1425.3,870.3 1430.3,870.5 1435.4,870.8C1440.4,871.2 1445.1,872.6 1450.6,873.4C1456,874.1 1462.4,874.8 1468.3,875.1C1474.2,875.4 1480.1,875.3 1486,875.1C1491.9,875 1497.8,874.5 1503.7,874.1C1509.6,873.7 1515.9,872.9 1521.4,872.9C1526.9,872.8 1531.1,872.7 1536.6,873.9C1542,875 1549.2,877.2 1554.3,879.7C1559.3,882.1 1563.1,885 1566.9,888.5C1570.7,892.1 1574.4,896.6 1577,901.2C1579.7,905.8 1581.5,911.7 1582.6,916.4C1583.7,921 1583.7,924.8 1583.9,929C1584,933.2 1583.5,939.6 1583.4,941.7" fill="#fff" stroke="#1a1a1a" stroke-width="1.2"/>
<path d="M1381.7,954.8L1391.4,942.7L1401.1,954.8L1410.8,942.7L1420.5,954.8M1549,954.8L1557.1,942.7L1565.2,954.8L1573.3,942.7L1581.4,954.8" fill="none" stroke="#c4c4c4" stroke-width="1.1"/>
<path d="M1379.7,941.7 V954.8 M1583.4,941.7 V954.8" fill="none" stroke="#1a1a1a" stroke-width="1.1"/>
<path d="M1450.6,872.1 V881.5 M1521.4,872.1 V881.5" fill="none" stroke="#1a1a1a" stroke-width="2.4" stroke-linejoin="round" stroke-linecap="round"/>
<rect x="1439.2" y="881.5" width="93.6" height="29.9" fill="none" stroke="#1a1a1a" stroke-width="2.4" stroke-linejoin="round" stroke-linecap="round" />
<rect x="1434.1" y="883" width="5.1" height="15.7" fill="none" stroke="#1a1a1a" stroke-width="2.4" stroke-linejoin="round" stroke-linecap="round" />
<rect x="1532.8" y="883" width="5.8" height="15.7" fill="none" stroke="#1a1a1a" stroke-width="2.4" stroke-linejoin="round" stroke-linecap="round" />
<rect x="1473.3" y="884.7" width="25.3" height="13.9" fill="none" stroke="#1a1a1a" stroke-width="2.4" stroke-linejoin="round" stroke-linecap="round" />
<rect x="1430.3" y="911.3" width="111.8" height="3.8" fill="none" stroke="#1a1a1a" stroke-width="2.4" stroke-linejoin="round" stroke-linecap="round" />
<rect x="1419.4" y="915.1" width="133.6" height="25.8" fill="none" stroke="#1a1a1a" stroke-width="2.4" stroke-linejoin="round" stroke-linecap="round" />
<path d="M1379.2,940.9 H1583.9" fill="none" stroke="#1a1a1a" stroke-width="2.6"/>
<path d="M1424.5,940.9 V954.8M1427.8,940.9 V954.8M1431.1,940.9 V954.8M1541.1,940.9 V954.8M1544.7,940.9 V954.8M1548,940.9 V954.8M1431.1,944.2 H1541.1" fill="none" stroke="#1a1a1a" stroke-width="2.4" stroke-linejoin="round" stroke-linecap="round"/>
<rect x="1413.1" y="954.8" width="146.2" height="5.1" fill="#fff" stroke="#1a1a1a" stroke-width="2.3"/>
<path d="M1413.1,959.9 C1414.1,982.6 1419.3,1003.4 1432.8,1003.6 H1539.1 C1552.7,1003.4 1557.8,982.6 1559.3,959.9" fill="#fff" stroke="#1a1a1a" stroke-width="2.5" stroke-linejoin="round"/>
<path d="M1436.6,1004.4C1437.2,1006.4 1438.8,1012.6 1439.9,1016.3C1441.1,1020 1442,1023.7 1443.7,1026.4C1445.5,1029.2 1447.5,1031.2 1450.6,1032.7C1453.6,1034.3 1458.1,1035 1461.9,1035.8C1465.7,1036.5 1469.3,1036.9 1473.3,1037.3C1477.3,1037.7 1481.8,1038 1486,1038C1490.2,1038 1494.6,1037.7 1498.6,1037.3C1502.6,1036.9 1506.2,1036.5 1510,1035.8C1513.8,1035 1518.4,1034.3 1521.4,1032.7C1524.4,1031.2 1526.4,1029.2 1528.2,1026.4C1530,1023.7 1530.8,1020 1532,1016.3C1533.2,1012.6 1534.8,1006.4 1535.3,1004.4" fill="#fff" stroke="#1a1a1a" stroke-width="2.5" stroke-linejoin="round"/>
<path d="M1486,613 V1052.5" fill="none" stroke="#2b2b2b" stroke-width="1.5" stroke-dasharray="72 11.3 11.6 11.3" stroke-dashoffset="57"/>
<path d="M43.3,898.5 L50.3,893.4 V916.7" fill="none" stroke="#1c1c1c" stroke-width="2.6" stroke-linejoin="bevel"/>
<text transform="translate(68.40,916.7) scale(0.8564,1)" x="-0.00" y="0" font-size="33.8" fill="#1c1c1c">–</text>
<text transform="translate(96.60,916.7) scale(1.0392,1)" x="-1.40" y="0" font-size="33.8" fill="#1c1c1c">соединительная</text>
<text transform="translate(372.00,916.7) scale(1.0699,1)" x="-2.30" y="0" font-size="33.8" fill="#1c1c1c">коробка</text>
<text transform="translate(516.50,916.7) scale(0.9132,1)" x="-0.90" y="0" font-size="33.8" fill="#1c1c1c">УСК</text>
<path d="M593.8,898.5 L601.3,893.4 V916.7" fill="none" stroke="#1c1c1c" stroke-width="2.6" stroke-linejoin="bevel"/>
<text transform="translate(605.70,916.7) scale(0.9234,1)" x="-1.70" y="0" font-size="33.8" fill="#1c1c1c">2.С</text>
<text transform="translate(40.40,969.7) scale(1.0130,1)" x="-1.70" y="0" font-size="33.8" fill="#1c1c1c">2</text>
<text transform="translate(68.40,969.7) scale(0.8564,1)" x="-0.00" y="0" font-size="33.8" fill="#1c1c1c">–</text>
<text transform="translate(97.20,969.7) scale(1.0727,1)" x="-2.20" y="0" font-size="33.8" fill="#1c1c1c">рукав</text>
<text transform="translate(198.70,969.7) scale(1.0207,1)" x="-2.10" y="0" font-size="33.8" fill="#1c1c1c">(защитная</text>
<text transform="translate(372.90,969.7) scale(1.0335,1)" x="-0.60" y="0" font-size="33.8" fill="#1c1c1c">трубка)</text>
<text transform="translate(41.20,1023.3) scale(0.9250,1)" x="-1.30" y="0" font-size="33.8" fill="#1c1c1c">3</text>
<text transform="translate(68.40,1023.3) scale(0.8564,1)" x="-0.00" y="0" font-size="33.8" fill="#1c1c1c">–</text>
<text transform="translate(97.50,1023.3) scale(1.0213,1)" x="-2.30" y="0" font-size="33.8" fill="#1c1c1c">нагревательная</text>
<text transform="translate(362.50,1023.3) scale(1.0639,1)" x="-1.40" y="0" font-size="33.8" fill="#1c1c1c">секция</text>
<text transform="translate(486.20,1023.3) scale(0.9762,1)" x="-2.10" y="0" font-size="33.8" fill="#1c1c1c">(лента)</text>
</svg>
</body></html>
